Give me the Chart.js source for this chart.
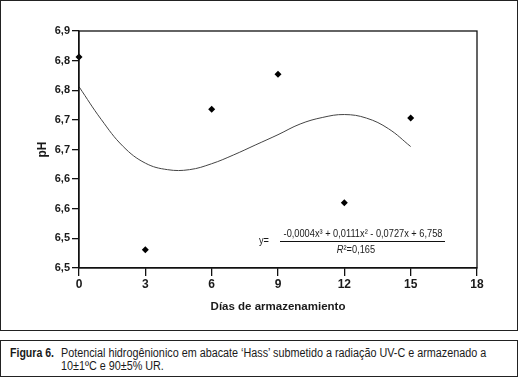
<!DOCTYPE html>
<html>
<head>
<meta charset="utf-8">
<script src="https://cdn.jsdelivr.net/npm/chart.js@4.4.0/dist/chart.umd.min.js"></script>
<style>
body { margin:0; background:#fff; color:#1a1a1a; font-family:"Liberation Sans", Arial, sans-serif; }
#box { position:absolute; left:0; top:0; width:516px; height:329px; border:1px solid #222; }
#caption { position:absolute; left:0; top:340px; width:516px; height:35px; border:1px solid #222; font-size:12px; line-height:13px; }
#caption .lab { position:absolute; left:9px; top:6px; font-weight:bold; white-space:nowrap; transform:scaleX(0.88); transform-origin:left top; }
#caption .txt { position:absolute; left:60px; top:6px; white-space:nowrap; transform:scaleX(0.9); transform-origin:left top; }
</style>
</head>
<body>
<div id="box"><canvas id="ph" width="516" height="329"></canvas></div>
<div id="caption">
  <span class="lab">Figura 6.</span>
  <span class="txt">Potencial hidrogênionico em abacate ‘Hass’ submetido a radiação UV-C e armazenado a<br>10±1ºC e 90±5% UR.</span>
</div>
<script>
var fontFam = '"Liberation Sans", Arial, sans-serif';

// observed pH per storage day
var dias = [0, 3, 6, 9, 12, 15];
var phValues = [6.856, 6.531, 6.768, 6.827, 6.610, 6.753];

// fitted curve
var curveDias = [0, 1, 2, 3, 4, 5, 6, 7, 8, 9, 10, 11, 12, 13, 14, 15];
var curveValues = [6.806, 6.751, 6.705, 6.677, 6.666, 6.666, 6.676, 6.691, 6.708, 6.725, 6.743, 6.754, 6.759, 6.753, 6.735, 6.705];

// y tick labels as printed (rounded to one decimal)
var yTickLabels = ["6,5", "6,5", "6,6", "6,6", "6,7", "6,7", "6,8", "6,8", "6,9"];
var xTicks = [0, 3, 6, 9, 12, 15, 18];

var numerator = "-0,0004x³ + 0,0111x² - 0,0727x + 6,758";

function narrowText(ctx, txt, x, y, font, sx) {
    ctx.save();
    ctx.font = font;
    ctx.translate(x, y);
    ctx.scale(sx, 1);
    ctx.fillText(txt, 0, 0);
    ctx.restore();
}

var framePlugin = {
    id: 'frame',
    afterDraw: function(chart) {
        var ctx = chart.ctx, a = chart.chartArea;
        ctx.save();
        ctx.strokeStyle = '#111';
        ctx.lineWidth = 1.3;
        ctx.strokeRect(a.left, a.top, a.right - a.left, a.bottom - a.top);

        // equation
        var sx = 0.88;
        var f = '10.5px ' + fontFam;
        ctx.fillStyle = '#1a1a1a';
        ctx.textBaseline = 'middle';
        ctx.textAlign = 'left';
        narrowText(ctx, 'y=', a.left + 180, a.bottom - 27, f, sx);
        ctx.textAlign = 'center';
        narrowText(ctx, numerator, a.left + 284, a.bottom - 34, f, sx);
        ctx.lineWidth = 1;
        ctx.beginPath();
        ctx.moveTo(a.left + 201, a.bottom - 26.5);
        ctx.lineTo(a.left + 366, a.bottom - 26.5);
        ctx.stroke();
        ctx.textAlign = 'left';
        ctx.font = 'italic ' + f;
        var wR = ctx.measureText('R').width * sx;
        ctx.font = f;
        var rest = '²=0,165';
        var wRest = ctx.measureText(rest).width * sx;
        var x0 = a.left + 277 - (wR + wRest) / 2;
        narrowText(ctx, 'R', x0, a.bottom - 18, 'italic ' + f, sx);
        narrowText(ctx, rest, x0 + wR, a.bottom - 18, f, sx);
        ctx.restore();
    }
};

Chart.defaults.font.family = fontFam;
Chart.defaults.color = '#1a1a1a';

var phChart = new Chart(document.getElementById('ph'), {
    type: 'scatter',
    data: {
        datasets: [
            {
                label: 'pH',
                data: dias.map(function(d, i) { return { x: d, y: phValues[i] }; }),
                pointStyle: 'rectRot',
                pointRadius: 3.5,
                backgroundColor: '#000',
                borderColor: '#000',
                borderWidth: 0,
                clip: false
            },
            {
                label: 'ajuste',
                data: curveDias.map(function(d, i) { return { x: d, y: curveValues[i] }; }),
                showLine: true,
                tension: 0.4,
                pointRadius: 0,
                borderColor: '#444',
                borderWidth: 1
            }
        ]
    },
    options: {
        responsive: false,
        animation: false,
        layout: { padding: { left: 0, top: 30, right: 40, bottom: 0 } },
        plugins: {
            legend: { display: false },
            tooltip: { enabled: false }
        },
        scales: {
            x: {
                type: 'linear',
                min: 0,
                max: 18,
                afterBuildTicks: function(s) { s.ticks = xTicks.map(function(v) { return { value: v }; }); },
                afterFit: function(s) { s.height = 62; },
                grid: { drawOnChartArea: false, tickLength: 8, color: '#111', lineWidth: 1.3 },
                border: { color: '#111', width: 1.3 },
                ticks: { padding: 1, font: { size: 12, weight: 'bold' } },
                title: { display: true, text: 'Días de armazenamiento', font: { size: 11.5, weight: 'bold' }, padding: { top: 0, bottom: 16 } }
            },
            y: {
                min: 6.5,
                max: 6.9,
                afterBuildTicks: function(s) {
                    s.ticks = yTickLabels.map(function(l, i) { return { value: 6.5 + i * 0.05 }; });
                },
                afterFit: function(s) { s.width = 78; },
                grid: { drawOnChartArea: false, tickLength: 7, color: '#111', lineWidth: 1.3 },
                border: { color: '#111', width: 1.3 },
                ticks: {
                    padding: 2,
                    font: { size: 11, weight: 'bold' },
                    callback: function(v, i) { return yTickLabels[i]; }
                },
                title: { display: true, text: 'pH', font: { size: 12, weight: 'bold' }, padding: { top: 34, bottom: 0 } }
            }
        }
    },
    plugins: [framePlugin]
});
</script>
</body>
</html>
